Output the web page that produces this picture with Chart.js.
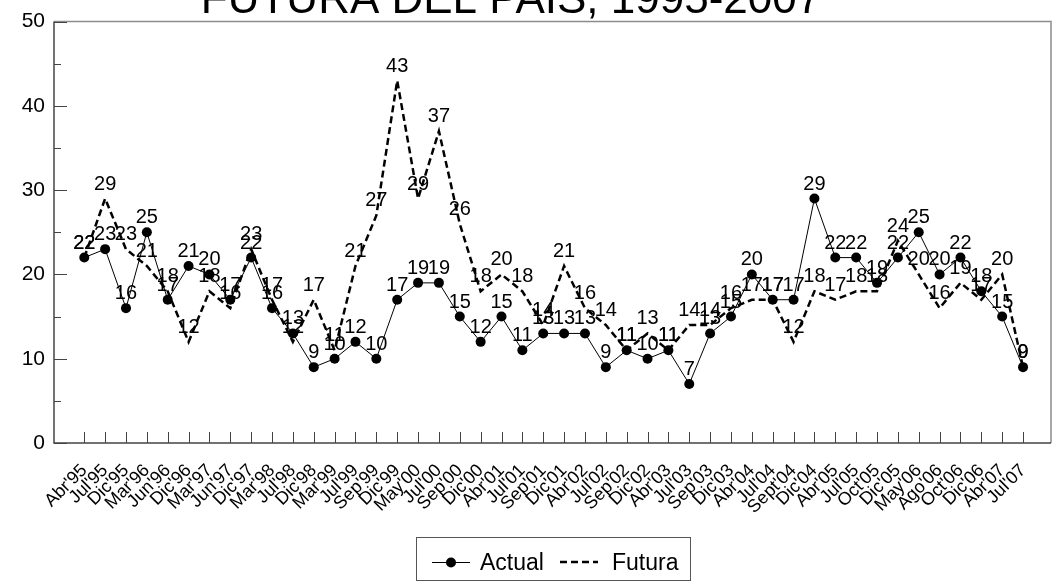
<!DOCTYPE html>
<html><head><meta charset="utf-8">
<script src="https://cdn.jsdelivr.net/npm/chart.js@4/dist/chart.umd.min.js"></script>
<style>html,body{margin:0;padding:0;background:#fff;}#wrap{width:1056px;height:585px;}</style>
</head><body><div id="wrap"><canvas id="c" width="1056" height="585"></canvas></div>
<script>
const categories = ["Abr'95","Jul'95","Dic'95","Mar'96","Jun'96","Dic'96","Mar'97","Jun'97","Dic'97","Mar'98","Jul'98","Dic'98","Mar'99","Jul'99","Sep'99","Dic'99","May'00","Jul'00","Sep'00","Dic'00","Abr'01","Jul'01","Sep'01","Dic'01","Abr'02","Jul'02","Sep'02","Dic'02","Abr'03","Jul'03","Sep'03","Dic'03","Abr'04","Jul'04","Sept'04","Dic'04","Abr'05","Jul'05","Oct'05","Dic'05","May'06","Ago'06","Oct'06","Dic'06","Abr'07","Jul'07"];
const actualValues = [22,23,16,25,17,21,20,17,22,16,13,9,10,12,10,17,19,19,15,12,15,11,13,13,13,9,11,10,11,7,13,15,20,17,17,29,22,22,19,22,25,20,22,18,15,9];
const futuraValues = [22,29,23,21,18,12,18,16,23,17,12,17,11,21,27,43,29,37,26,18,20,18,14,21,16,14,11,13,11,14,14,16,17,17,12,18,17,18,18,24,20,16,19,17,20,9];
const seriesNames = ["Actual","Futura"];
const yTickValues = [0,10,20,30,40,50];
const yMinorTickValues = [5,15,25,35,45];
const titleText = "FUTURA DEL PAIS, 1995-2007";

const FONT = '"Liberation Sans", Arial, sans-serif';

const valueLabels = {
  id: 'valueLabels',
  beforeDatasetsDraw(chart) {
    const ctx = chart.ctx;
    ctx.save();
    ctx.font = '20px ' + FONT;
    ctx.fillStyle = '#000';
    ctx.textAlign = 'center';
    ctx.textBaseline = 'alphabetic';
    chart.data.datasets.forEach((ds, di) => {
      const meta = chart.getDatasetMeta(di);
      meta.data.forEach((el, i) => {
        ctx.fillText(String(ds.data[i].y), el.x, el.y - 9);
      });
    });
    ctx.restore();
  }
};

const frame = {
  id: 'frame',
  afterDraw(chart) {
    const ctx = chart.ctx;
    const a = chart.chartArea;
    const xs = chart.scales.x, ys = chart.scales.y;
    ctx.save();
    ctx.strokeStyle = '#8c8c8c';
    ctx.lineWidth = 1.5;
    ctx.beginPath();
    ctx.moveTo(a.left, a.top); ctx.lineTo(a.right, a.top); ctx.lineTo(a.right, a.bottom);
    ctx.stroke();
    ctx.strokeStyle = '#444';
    ctx.lineWidth = 1.5;
    ctx.beginPath();
    ctx.moveTo(a.left, a.top); ctx.lineTo(a.left, a.bottom); ctx.lineTo(a.right, a.bottom);
    ctx.stroke();
    ctx.lineWidth = 1;
    ctx.beginPath();
    yTickValues.forEach(v => { const y = Math.round(ys.getPixelForValue(v)) + 0.5; ctx.moveTo(a.left, y); ctx.lineTo(a.left + 13, y); });
    yMinorTickValues.forEach(v => { const y = Math.round(ys.getPixelForValue(v)) + 0.5; ctx.moveTo(a.left, y); ctx.lineTo(a.left + 7, y); });
    categories.forEach((c, i) => { const x = Math.round(xs.getPixelForValue(i)) + 0.5; ctx.moveTo(x, a.bottom); ctx.lineTo(x, a.bottom - 11); });
    ctx.stroke();
    ctx.fillStyle = '#000';
    ctx.font = '44px ' + FONT;
    ctx.textAlign = 'center';
    ctx.textBaseline = 'alphabetic';
    ctx.fillText(titleText, 511, 13);
    ctx.strokeStyle = '#555';
    ctx.lineWidth = 1;
    ctx.strokeRect(416.5, 537.5, 274, 43);
    const ly = 562;
    ctx.strokeStyle = '#000';
    ctx.lineWidth = 1;
    ctx.beginPath(); ctx.moveTo(432, ly + 0.5); ctx.lineTo(470, ly + 0.5); ctx.stroke();
    ctx.beginPath(); ctx.arc(451, ly + 0.5, 5, 0, Math.PI * 2); ctx.fillStyle = '#000'; ctx.fill();
    ctx.lineWidth = 2.5;
    ctx.setLineDash([7, 4]);
    ctx.beginPath(); ctx.moveTo(560, ly); ctx.lineTo(598, ly); ctx.stroke();
    ctx.setLineDash([]);
    ctx.font = '23px ' + FONT;
    ctx.textAlign = 'left';
    ctx.textBaseline = 'middle';
    ctx.fillText(seriesNames[0], 480, ly + 2);
    ctx.fillText(seriesNames[1], 612, ly + 2);
    ctx.restore();
  }
};

new Chart(document.getElementById('c'), {
  type: 'line',
  data: {
    datasets: [
      {
        label: seriesNames[0],
        data: actualValues.map((v, i) => ({x: i, y: v})),
        borderColor: '#000', backgroundColor: '#000', borderWidth: 1,
        pointRadius: 5, pointBackgroundColor: '#000', pointBorderColor: '#000', pointBorderWidth: 0,
        tension: 0, order: 1
      },
      {
        label: seriesNames[1],
        data: futuraValues.map((v, i) => ({x: i, y: v})),
        borderColor: '#000', backgroundColor: '#000', borderWidth: 2.5, borderDash: [7, 4],
        pointRadius: 0, tension: 0, order: 2
      }
    ]
  },
  options: {
    responsive: false,
    animation: false,
    devicePixelRatio: 1,
    layout: { padding: { top: 15, right: 4, left: 0, bottom: 0 } },
    plugins: { legend: { display: false }, tooltip: { enabled: false }, title: { display: false } },
    scales: {
      x: {
        type: 'linear', min: -1.451, max: 46.34,
        afterBuildTicks: s => { s.ticks = categories.map((c, i) => ({ value: i })); },
        afterFit: s => { s.height = 142; },
        grid: { display: false, drawTicks: false },
        border: { display: false },
        ticks: {
          autoSkip: false, minRotation: 45, maxRotation: 45, padding: 17, color: '#000',
          font: { family: FONT, size: 18 },
          callback: v => categories[Math.round(v)] ?? ''
        }
      },
      y: {
        min: 0, max: 50,
        afterFit: s => { s.width = 54; },
        afterBuildTicks: s => { s.ticks = yTickValues.map(v => ({ value: v })); },
        grid: { display: false, drawTicks: false },
        border: { display: false },
        ticks: { padding: 9, color: '#000', font: { family: FONT, size: 21 } }
      }
    }
  },
  plugins: [valueLabels, frame]
});
</script>
</body></html>
